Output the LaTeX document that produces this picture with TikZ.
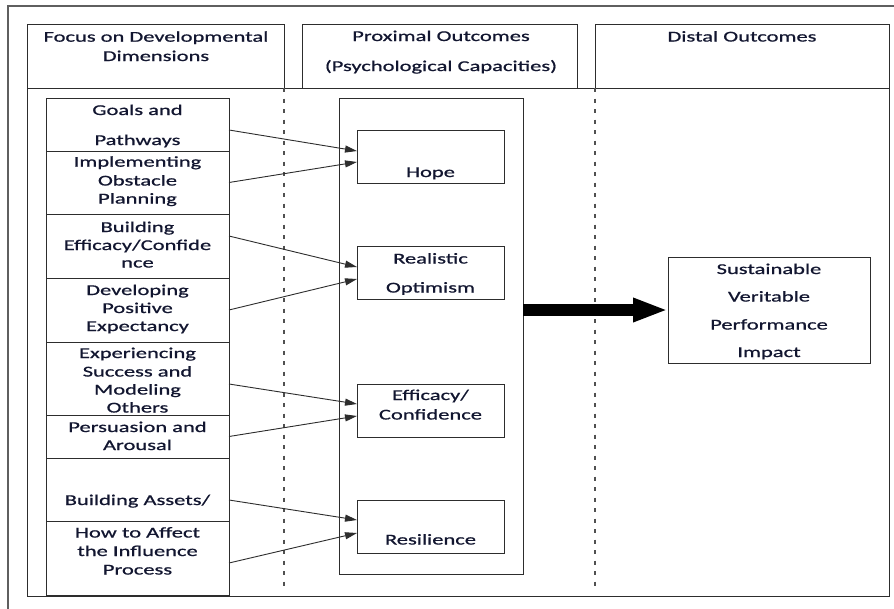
\documentclass[tikz,border=0pt]{standalone}
\usepackage{fontspec}
\setmainfont{Carlito}[FakeStretch=1.5, FakeBold=0.8]
\usetikzlibrary{arrows.meta}
\definecolor{ink}{RGB}{18,22,48}
\definecolor{rule}{RGB}{45,45,45}
\definecolor{frame}{RGB}{95,95,95}
\definecolor{dashgray}{RGB}{80,80,80}
\begin{document}
\begin{tikzpicture}[x=1pt,y=-1pt,
  box/.style={draw=rule, line width=0.9pt, inner sep=0pt, outer sep=0pt},
  txt/.style={text=ink, inner sep=0pt, anchor=base, font=\fontsize{15}{18}\selectfont},
  link/.style={draw=rule, line width=0.9pt, -{Triangle[length=12pt,width=7pt]}},
  bigarrow/.style={draw=black, line width=12pt, -{Triangle[length=35pt 0 0,width=22pt 0]}},
  divider/.style={draw=dashgray, line width=1.2pt, dash pattern=on 4pt off 6.5pt},
  leftbox/.style={box, minimum width=183pt},
  capbox/.style={box, minimum width=147pt, minimum height=53pt}]
\useasboundingbox (0,0) rectangle (894,608);
\fill[white] (0,0) rectangle (894,608);

% outer frame (runs off the right and bottom edges)
\draw[frame, line width=1.2pt] (8,612) -- (8,6) -- (898,6);

% column headers and body
\node[box, minimum width=257pt, minimum height=64pt] (h1) at (155.5,56) {};
\node[box, minimum width=275pt, minimum height=64pt] (h2) at (439.5,56) {};
\node[box, minimum width=294pt, minimum height=64pt] (h3) at (742,56) {};
\node[box, minimum width=862pt, minimum height=508pt] (body) at (458,342) {};

% dashed column dividers
\draw[divider] (h1.south east) -- ++(0,502);
\draw[divider] (h3.south west) -- ++(0,502);

% developmental dimensions
\node[leftbox, minimum height=53pt] (gp) at (137.5,124.5) {};
\node[leftbox, minimum height=63pt] (io) at (137.5,182.5) {};
\node[leftbox, minimum height=64pt] (be) at (137.5,246) {};
\node[leftbox, minimum height=64pt] (dp) at (137.5,310) {};
\node[leftbox, minimum height=73pt] (es) at (137.5,378.5) {};
\node[leftbox, minimum height=43pt] (pa) at (137.5,436.5) {};
\node[leftbox, minimum height=63pt] (ba) at (137.5,489.5) {};
\node[leftbox, minimum height=74pt] (hi) at (137.5,558) {};

% psychological capacities
\node[box, minimum width=184pt, minimum height=476pt] (mid) at (431,336) {};
\node[capbox] (hope) at (430.5,156.5) {};
\node[capbox] (ro) at (430.5,272.5) {};
\node[capbox] (ec) at (430.5,410.5) {};
\node[capbox] (res) at (430.5,526.5) {};

% distal outcome
\node[box, minimum width=202pt, minimum height=106pt] (dist) at (769,310) {};

% header texts
\node[txt] (t1) at (156,41.7) {Focus on Developmental};
\node[txt] (t2) at (156,61) {Dimensions};
\node[txt] (t3) at (441,41) {Proximal Outcomes};
\node[txt] (t4) at (441,71) {(Psychological Capacities)};
\node[txt] (t5) at (742,41.5) {Distal Outcomes};

% dimension texts
\node[txt] (l1) at (137.5,115) {Goals and};
\node[txt] (l2) at (137.5,145) {Pathways};
\node[txt] (l3) at (137.5,166.7) {Implementing};
\node[txt] (l4) at (137.5,185.5) {Obstacle};
\node[txt] (l5) at (137.5,203.5) {Planning};
\node[txt] (l6) at (137.5,232) {Building};
\node[txt] (l7) at (137.5,250) {Efficacy/Confide};
\node[txt] (l8) at (137.5,267.5) {nce};
\node[txt] (l9) at (137.5,295) {Developing};
\node[txt] (l10) at (137.5,313) {Positive};
\node[txt] (l11) at (137.5,331) {Expectancy};
\node[txt] (l12) at (137.5,358) {Experiencing};
\node[txt] (l13) at (137.5,376.5) {Success and};
\node[txt] (l14) at (137.5,394.5) {Modeling};
\node[txt] (l15) at (137.5,412.5) {Others};
\node[txt] (l16) at (137.5,432) {Persuasion and};
\node[txt] (l17) at (137.5,450) {Arousal};
\node[txt] (l18) at (137.5,505) {Building Assets/};
\node[txt] (l19) at (137.5,537.5) {How to Affect};
\node[txt] (l20) at (137.5,556) {the Influence};
\node[txt] (l21) at (137.5,574.5) {Process};

% capacity texts
\node[txt] (m1) at (430.5,177) {Hope};
\node[txt] (m2) at (430.5,263.5) {Realistic};
\node[txt] (m3) at (430.5,292.5) {Optimism};
\node[txt] (m4) at (430.5,400) {Efficacy/};
\node[txt] (m5) at (430.5,419.5) {Confidence};
\node[txt] (m6) at (430.5,544.5) {Resilience};

% outcome texts
\node[txt] (d1) at (769,274) {Sustainable};
\node[txt] (d2) at (769,301.5) {Veritable};
\node[txt] (d3) at (769,329.5) {Performance};
\node[txt] (d4) at (769,357) {Impact};

% links from dimensions to capacities
\draw[link] ([yshift=-5.5pt]gp.east) -- ([yshift=5.5pt]hope.west);
\draw[link] (io.east) -- ([yshift=-5.5pt]hope.west);
\draw[link] ([yshift=10pt]be.east) -- ([yshift=5.5pt]ro.west);
\draw[link] (dp.east) -- ([yshift=-6.5pt]ro.west);
\draw[link] ([yshift=-5.5pt]es.east) -- ([yshift=6.5pt]ec.west);
\draw[link] (pa.east) -- ([yshift=-5.5pt]ec.west);
\draw[link] ([yshift=-10.5pt]ba.east) -- ([yshift=6.5pt]res.west);
\draw[link] ([yshift=-5pt]hi.east) -- ([yshift=-6.5pt]res.west);

% capacities lead to the distal outcome
\draw[bigarrow] (mid.east |- dist.west) -- (dist.west);
\end{tikzpicture}
\end{document}
